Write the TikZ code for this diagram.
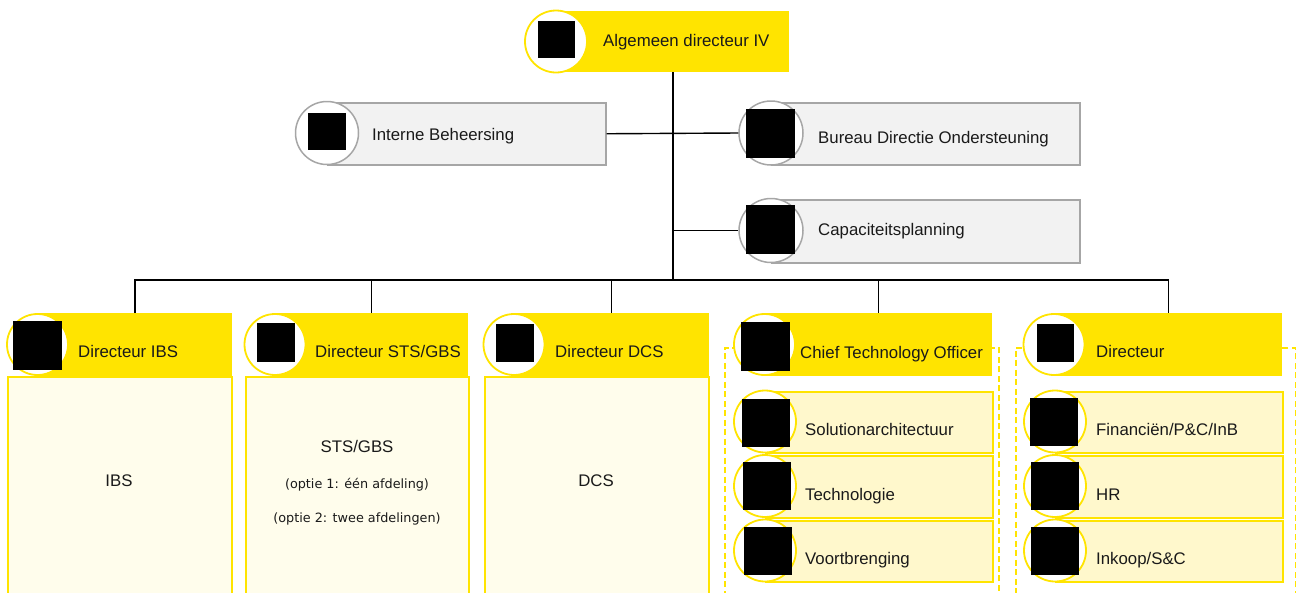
\documentclass[tikz,border=0pt]{standalone}
\usepackage{fontspec}
\setmainfont{Liberation Sans}
\newfontfamily\dvfont{DejaVu Sans}
\definecolor{hy}{RGB}{255,228,0}
\definecolor{bodyc}{RGB}{255,253,236}
\definecolor{subc}{RGB}{255,248,204}
\definecolor{gfill}{RGB}{242,242,242}
\definecolor{gline}{RGB}{166,166,166}
\definecolor{ink}{RGB}{26,26,26}
\tikzset{
 hdr/.style={fill=hy, draw=none, inner sep=0, anchor=north west, minimum height=63},
 bodybox/.style={fill=bodyc, draw=hy, line width=1.5pt, inner sep=0, anchor=north west, minimum height=250},
 subbox/.style={fill=subc, draw=hy, line width=1.5pt, inner sep=0, anchor=north west, minimum width=227},
 graybox/.style={fill=gfill, draw=gline, line width=1.5pt, inner sep=0, anchor=north west, minimum height=62},
 ycirc/.style={circle, fill=white, draw=hy, line width=1.8pt, inner sep=0, minimum size=61},
 gcirc/.style={circle, fill=white, draw=gline, line width=1.5pt, inner sep=0, minimum size=63},
 photo/.style={fill=black, draw=none, inner sep=0, minimum size=#1},
 lbl/.style={inner sep=0, anchor=base west, text=ink, font=\fontsize{16.8}{20}\selectfont},
 clbl/.style={inner sep=0, anchor=base, text=ink, font=\fontsize{16.8}{20}\selectfont},
 smalllbl/.style={inner sep=0, anchor=base, text=ink, font=\dvfont\fontsize{12.8}{15}\selectfont},
 dashbox/.style={draw=hy, dash pattern=on 6pt off 3.5pt, line width=1.6pt, inner sep=0, anchor=north west, minimum height=273},
 conn/.style={draw=black, line width=1.1pt},
}
\begin{document}
\begin{tikzpicture}[x=1pt,y=-1pt]
\useasboundingbox (0,0) rectangle (1296,592);
\clip (0,0) rectangle (1296,592);
% dashed groups
\node[dashbox, minimum width=274] (g4) at (724,347) {};
\node[dashbox, minimum width=280] (g5) at (1015,347) {};
% bodies
\node[bodybox, minimum width=224] (b1) at (7,376) {};
\node[bodybox, minimum width=223] (b2) at (245,376) {};
\node[bodybox, minimum width=224] (b3) at (484,376) {};
% sub boxes
\node[subbox, minimum height=61] (s41) at (765,391) {};
\node[subbox, minimum height=62] (s42) at (765,455) {};
\node[subbox, minimum height=61] (s43) at (765,520) {};
\node[subbox, minimum height=61] (s51) at (1055,391) {};
\node[subbox, minimum height=62] (s52) at (1055,455) {};
\node[subbox, minimum height=61] (s53) at (1055,520) {};
% gray boxes
\node[graybox, minimum width=278] (ib) at (327,102) {};
\node[graybox, minimum width=308] (bd) at (771,102) {};
\node[graybox, minimum width=308, minimum height=63] (cp) at (771,199) {};
% headers
\node[hdr, minimum width=233, minimum height=61] (top) at (556,11) {};
\node[hdr, minimum width=194.5] (h1) at (37.5,313) {};
\node[hdr, minimum width=193] (h2) at (275,313) {};
\node[hdr, minimum width=195] (h3) at (514,313) {};
\node[hdr, minimum width=227.5] (h4) at (764.5,313) {};
\node[hdr, minimum width=228] (h5) at (1054,313) {};
% circles
\node[ycirc, minimum size=62] (topc) at (556,41.5) {};
\node[gcirc] (ibc) at (327,133) {};
\node[gcirc, minimum size=64] (bdc) at (771,133) {};
\node[gcirc, minimum size=64] (cpc) at (771,230.5) {};
\node[ycirc] (c1) at (37.5,344.5) {};
\node[ycirc] (c2) at (275,344.5) {};
\node[ycirc] (c3) at (514,344.5) {};
\node[ycirc] (c4) at (764.5,344.5) {};
\node[ycirc] (c5) at (1054,344.5) {};
\node[ycirc, minimum size=62] (c41) at (765,421.5) {};
\node[ycirc, minimum size=62] (c42) at (765,486) {};
\node[ycirc, minimum size=62] (c43) at (765,550.5) {};
\node[ycirc, minimum size=62] (c51) at (1055,421.5) {};
\node[ycirc, minimum size=62] (c52) at (1055,486) {};
\node[ycirc, minimum size=62] (c53) at (1055,550.5) {};
% connectors
\coordinate (bus) at (673,280);
\draw[conn, line width=1.8pt] (top.south) -- (top.south |- bus);
\draw[conn, line width=1.4pt] (ib.east) -- (bdc.west);
\draw[conn, line width=1.2pt] (cpc.west -| top.south) -- (cpc.west);
\draw[conn] (h1.north) |- (h5.north |- bus) -- (h5.north);
\draw[conn] (h2.north) -- (h2.north |- bus);
\draw[conn] (h3.north) -- (h3.north |- bus);
\draw[conn] (h4.north) -- (h4.north |- bus);
% photos
\node[photo=37] (topp) at (556.5,39.5) {};
\node[photo=37.5] (ibp) at (327,131.5) {};
\node[photo=49] (bdp) at (770.5,133) {};
\node[photo=49] (cpp) at (770.5,229) {};
\node[photo=49] (p1) at (37.5,345) {};
\node[photo=38.5] (p2) at (276,342.5) {};
\node[photo=38] (p3) at (515,343) {};
\node[photo=49] (p4) at (765.5,346.5) {};
\node[photo=37.5] (p5) at (1055.5,343) {};
\node[photo=48] (p41) at (766,422.5) {};
\node[photo=48] (p42) at (767,486) {};
\node[photo=48] (p43) at (768,551) {};
\node[photo=48] (p51) at (1054,422) {};
\node[photo=48] (p52) at (1054.5,486) {};
\node[photo=48] (p53) at (1054.5,551) {};
% labels
\node[lbl] (topt) at (603,46) {Algemeen directeur IV};
\node[lbl] (ibt) at (372,140) {Interne Beheersing};
\node[lbl] (bdt) at (818,143) {Bureau Directie Ondersteuning};
\node[lbl] (cpt) at (818,235) {Capaciteitsplanning};
\node[lbl] (t1) at (78,357.5) {Directeur IBS};
\node[lbl] (t2) at (315,357.5) {Directeur STS/GBS};
\node[lbl] (t3) at (555,357.5) {Directeur DCS};
\node[lbl] (t4) at (800,358) {Chief Technology Officer};
\node[lbl] (t5) at (1096,357.5) {Directeur};
\node[clbl] (bt1) at (119,486) {IBS};
\node[clbl] (bt2) at (357,452) {STS/GBS};
\node[smalllbl] (bt2a) at (357,488) {(optie 1: één afdeling)};
\node[smalllbl] (bt2b) at (357,522) {(optie 2: twee afdelingen)};
\node[clbl] (bt3) at (596,486) {DCS};
\node[lbl] (t41) at (805,435) {Solutionarchitectuur};
\node[lbl] (t42) at (805,500) {Technologie};
\node[lbl] (t43) at (805,564) {Voortbrenging};
\node[lbl] (t51) at (1096,435) {Financiën/P\&C/InB};
\node[lbl] (t52) at (1096,500) {HR};
\node[lbl] (t53) at (1096,564) {Inkoop/S\&C};
\end{tikzpicture}
\end{document}
